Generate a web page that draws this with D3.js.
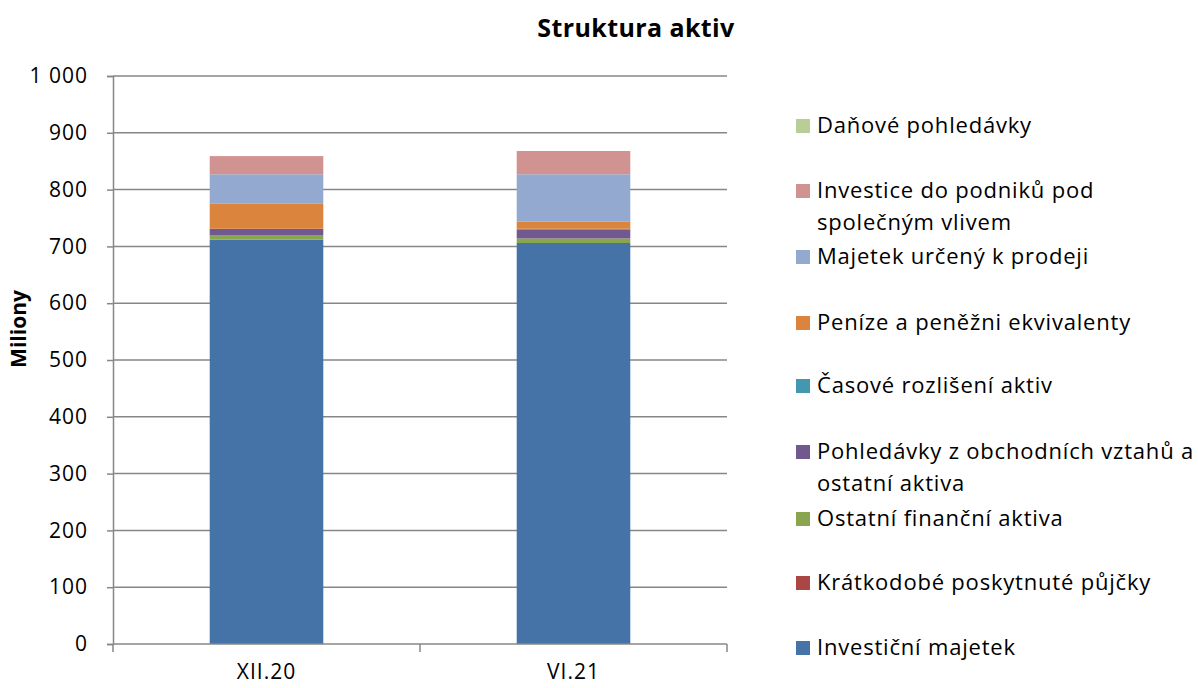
<!DOCTYPE html>
<html>
<head>
<meta charset="utf-8">
<script src="https://cdn.jsdelivr.net/npm/d3@7"></script>
<style>
  body { margin: 0; background: #fff; }
  text { font-family: "Open Sans", Lato, sans-serif; fill: #000; }
</style>
</head>
<body>
<div id="chart"></div>
<script>
// categories and series (millions)
var categories = ["XII.20", "VI.21"];
var seriesNames = [
  "Investiční majetek",
  "Krátkodobé poskytnuté půjčky",
  "Ostatní finanční aktiva",
  "Pohledávky z obchodních vztahů a ostatní aktiva",
  "Časové rozlišení aktiv",
  "Peníze a peněžni ekvivalenty",
  "Majetek určený k prodeji",
  "Investice do podniků pod společným vlivem",
  "Daňové pohledávky"
];
var investicniMajetek = [712, 706];
var kratkodobePujcky = [0, 0];
var ostatniFinancni = [8, 8];
var pohledavky = [11, 16];
var casoveRozliseni = [0, 1];
var penize = [44, 13];
var majetekProdej = [52, 83];
var investicePodniky = [32, 41];
var danovePohledavky = [0, 0];
var yTicks = [0, 100, 200, 300, 400, 500, 600, 700, 800, 900, 1000];

var colors = ["#4573a7", "#aa4643", "#89a54e", "#71588f", "#4198af",
              "#db843d", "#93a9cf", "#d19392", "#b9cd96"];

var legendLines = [
  ["Investiční majetek"],
  ["Krátkodobé poskytnuté půjčky"],
  ["Ostatní finanční aktiva"],
  ["Pohledávky z obchodních vztahů a", "ostatní aktiva"],
  ["Časové rozlišení aktiv"],
  ["Peníze a peněžni ekvivalenty"],
  ["Majetek určený k prodeji"],
  ["Investice do podniků pod", "společným vlivem"],
  ["Daňové pohledávky"]
];

var allSeries = [investicniMajetek, kratkodobePujcky, ostatniFinancni, pohledavky,
                 casoveRozliseni, penize, majetekProdej, investicePodniky, danovePohledavky];

var table = categories.map(function (c, i) {
  var row = { cat: c };
  seriesNames.forEach(function (s, j) { row[s] = allSeries[j][i]; });
  return row;
});

var width = 1198, height = 688;
var margin = { top: 76, left: 113, right: 471, bottom: 44 };
var plotW = width - margin.left - margin.right;
var plotH = height - margin.top - margin.bottom;

var svg = d3.select("#chart").append("svg")
  .attr("width", width)
  .attr("height", height);

var g = svg.append("g")
  .attr("transform", "translate(" + margin.left + "," + margin.top + ")");

var x = d3.scaleBand()
  .domain(categories)
  .range([0, plotW])
  .paddingInner(0.63)
  .paddingOuter(0.315);

var y = d3.scaleLinear()
  .domain([0, 1000])
  .range([plotH, 0]);

// gridlines
g.selectAll(".grid")
  .data(yTicks.slice(1))
  .enter().append("line")
  .attr("x1", 0)
  .attr("x2", plotW)
  .attr("y1", function (d) { return y(d); })
  .attr("y2", function (d) { return y(d); })
  .attr("stroke", "#878787")
  .attr("stroke-width", 1.5);

var stack = d3.stack().keys(seriesNames);
var stacked = stack(table);

g.selectAll(".layer")
  .data(stacked)
  .enter().append("g")
  .attr("fill", function (d, i) { return colors[i]; })
  .selectAll("rect")
  .data(function (d) { return d; })
  .enter().append("rect")
  .attr("x", function (d) { return x(d.data.cat); })
  .attr("width", x.bandwidth())
  .attr("y", function (d) { return y(d[1]); })
  .attr("height", function (d) { return y(d[0]) - y(d[1]); });

// y axis
var yAxis = d3.axisLeft(y)
  .tickValues(yTicks)
  .tickSize(6)
  .tickPadding(19)
  .tickFormat(function (d) { return d3.format(",")(d).replace(",", " "); });

var ya = g.append("g").call(yAxis);
ya.select(".domain").attr("stroke", "#878787").attr("stroke-width", 1.5);
ya.selectAll(".tick line").attr("stroke", "#878787").attr("stroke-width", 1.5);
ya.selectAll("text")
  .style("font-size", "21px")
  .style("letter-spacing", "1px")
  .style("font-family", "'Open Sans', sans-serif")
  .attr("fill", "#000");

// x axis
var xa = g.append("g").attr("transform", "translate(0," + plotH + ")");
xa.append("line")
  .attr("x1", 0).attr("x2", plotW)
  .attr("stroke", "#878787").attr("stroke-width", 1.5);
var sepPos = [0, x.step(), plotW];
xa.selectAll(".xt")
  .data(sepPos)
  .enter().append("line")
  .attr("x1", function (d) { return d; })
  .attr("x2", function (d) { return d; })
  .attr("y1", 0).attr("y2", 8)
  .attr("stroke", "#878787").attr("stroke-width", 1.5);
xa.selectAll(".xl")
  .data(categories)
  .enter().append("text")
  .attr("x", function (d) { return x(d) + x.bandwidth() / 2; })
  .attr("y", 35)
  .attr("text-anchor", "middle")
  .style("font-size", "21px")
  .style("letter-spacing", "1px")
  .text(function (d) { return d; });

// title
svg.append("text")
  .attr("x", 636)
  .attr("y", 37)
  .attr("text-anchor", "middle")
  .style("font-size", "25px")
  .style("letter-spacing", "0.4px")
  .style("font-weight", "bold")
  .text("Struktura aktiv");

// y label
svg.append("text")
  .attr("transform", "translate(26,329) rotate(-90)")
  .attr("text-anchor", "middle")
  .style("font-size", "21px")
  .style("font-weight", "bold")
  .text("Miliony");

// legend (reverse order, top = last series)
var legendY = [648, 583, 519, 452, 386, 323, 257, 191, 126];
var legend = svg.append("g");
legendLines.forEach(function (lines, i) {
  var ly = legendY[i];
  legend.append("rect")
    .attr("x", 796).attr("y", ly - 7)
    .attr("width", 14).attr("height", 14)
    .attr("fill", colors[i]);
  lines.forEach(function (t, k) {
    legend.append("text")
      .attr("x", 817)
      .attr("y", ly + 7 + k * 32)
      .style("font-size", "22px")
      .style("letter-spacing", "0.8px")
      .text(t);
  });
});
</script>
</body>
</html>
